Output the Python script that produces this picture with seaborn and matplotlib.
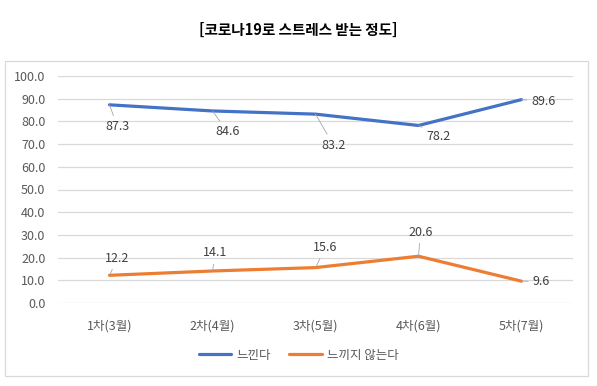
import numpy as np
import matplotlib.pyplot as plt
import matplotlib.patches as mpatches
import seaborn as sns
import pandas as pd

# data
rounds = ['1차(3월)', '2차(4월)', '3차(5월)', '4차(6월)', '5차(7월)']
feel = [87.3, 84.6, 83.2, 78.2, 89.6]
not_feel = [12.2, 14.1, 15.6, 20.6, 9.6]
series_names = ['느낀다', '느끼지 않는다']

df = pd.DataFrame({
    'round': rounds * 2,
    'value': feel + not_feel,
    'series': [series_names[0]] * len(rounds) + [series_names[1]] * len(rounds),
})

sns.set_style('white')
plt.rcParams['font.family'] = ['Noto Sans CJK KR', 'DejaVu Sans']

fig = plt.figure(figsize=(5.97, 3.86), dpi=100)
ax = fig.add_axes([58 / 597, 1 - 303 / 386, 515 / 597, 227 / 386])

palette = {series_names[0]: '#4472C4', series_names[1]: '#ED7D31'}
sns.lineplot(data=df, x='round', y='value', hue='series', palette=palette,
             linewidth=2.3, ax=ax, sort=False, legend=True)

ax.set_xlim(-0.5, 4.5)
ax.set_ylim(0, 100)
ax.set_yticks(np.arange(0, 101, 10))
ax.set_yticklabels([f'{v:.1f}' for v in np.arange(0, 101, 10)])
ax.set_xlabel('')
ax.set_ylabel('')
ax.grid(axis='y', color='#D9D9D9', linewidth=0.9)
ax.set_axisbelow(True)
for s in ax.spines.values():
    s.set_visible(False)
ax.tick_params(axis='both', length=0, labelsize=9, labelcolor='#595959')
ax.tick_params(axis='x', pad=12)
ax.tick_params(axis='y', pad=9)

# data labels with leader lines (offsets in pixels)
feel_off = [(8, -22), (15, -21), (18, -31), (20, -11), (22, -2)]
not_off = [(8, 17), (3, 18), (10, 20), (2, 24), (20, 0)]
for vals, offs in [(feel, feel_off), (not_feel, not_off)]:
    for i, (v, o) in enumerate(zip(vals, offs)):
        ax.annotate(f'{v:.1f}', xy=(i, v), xytext=o, textcoords='offset pixels',
                    ha='center', va='center', fontsize=9, color='#404040',
                    arrowprops=dict(arrowstyle='-', color='#A6A6A6', lw=0.6,
                                    shrinkA=1, shrinkB=0))

handles, labels = ax.get_legend_handles_labels()
ax.legend_.remove()
leg = fig.legend(handles, labels, loc='center', bbox_to_anchor=(0.5, 1 - 355 / 386),
                 ncol=2, frameon=False, fontsize=9, handlelength=2.6,
                 columnspacing=1.5, handletextpad=0.4)
for t in leg.get_texts():
    t.set_color('#595959')

fig.text(0.5, 1 - 30 / 386, '[코로나19로 스트레스 받는 정도]', ha='center', va='center',
         fontsize=10.5, fontweight='bold', color='black')

frame = mpatches.Rectangle((5 / 597, 1 - 376 / 386), 583 / 597, 315 / 386,
                           transform=fig.transFigure, fill=False,
                           edgecolor='#D9D9D9', linewidth=0.9)
fig.patches.append(frame)

fig.savefig('out.png', dpi=100)
